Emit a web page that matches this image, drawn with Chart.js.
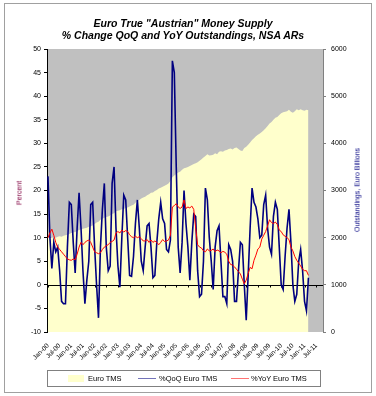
<!DOCTYPE html>
<html>
<head>
<meta charset="utf-8">
<script src="https://cdn.jsdelivr.net/npm/chart.js@4.4.1/dist/chart.umd.min.js"></script>
<style>
body { margin: 0; background: #fff; font-family: "Liberation Sans", Arial, sans-serif; }
#wrap { position: relative; width: 376px; height: 396px; overflow: hidden; }
#frame { position: absolute; left: 4px; top: 3px; width: 366px; height: 388px; border: 1px solid #a0a0a0; }
#chartCanvas { position: absolute; left: 0; top: 0; }
#title { position: absolute; left: 0; top: 17px; width: 366px; text-align: center; font-weight: bold; font-style: italic; font-size: 10.5px; line-height: 12px; }
.axisTitle { position: absolute; font-size: 7px; white-space: nowrap; transform: translate(-50%, -50%) rotate(-90deg); }
#legend { position: absolute; left: 47px; top: 370px; width: 272px; height: 15px; border: 1px solid #808080; font-size: 7.5px; }
#legend span { position: absolute; top: 3px; line-height: 9px; }
#legend i { position: absolute; display: block; }
</style>
</head>
<body>
<div id="wrap">
	<div id="frame"></div>
	<canvas id="chartCanvas" width="376" height="396"></canvas>
	<div id="title">Euro True "Austrian" Money Supply<br>% Change QoQ and YoY Outstandings, NSA ARs</div>
	<div class="axisTitle" style="left:19px;top:193px;color:#800040">Percent</div>
	<div class="axisTitle" style="left:357px;top:190px;color:#000080">Outstandings, Euro Billions</div>
	<div id="legend"></div>
</div>
<script>
// monthly, Jan-00 .. Mar-11 (axis runs on to Oct-11)
const monthNames = ['Jan','Feb','Mar','Apr','May','Jun','Jul','Aug','Sep','Oct','Nov','Dec'];
const axisMonths = 142;

// Euro TMS, billions (right axis)
const tmsBillions = [
	2000,1990,2000,2010,2000,2020,2030,2020,2040,2050,
	2060,2080,2100,2110,2120,2140,2160,2180,2190,2200,
	2210,2230,2240,2260,2290,2320,2340,2380,2400,2420,
	2440,2450,2470,2500,2520,2560,2570,2580,2600,2610,
	2630,2640,2660,2680,2700,2740,2780,2800,2830,2850,
	2870,2900,2920,2950,2960,2990,3010,3040,3060,3080,
	3100,3120,3150,3200,3280,3320,3350,3380,3400,3440,
	3470,3480,3500,3520,3540,3560,3580,3600,3630,3660,
	3700,3730,3770,3740,3750,3760,3790,3770,3820,3830,
	3820,3850,3860,3880,3890,3870,3900,3910,3880,3850,
	3840,3900,3930,3970,4020,4070,4110,4150,4180,4210,
	4240,4280,4320,4370,4420,4450,4500,4540,4560,4600,
	4640,4660,4670,4680,4710,4670,4650,4680,4720,4700,
	4720,4700,4690,4710,4700
];

// %QoQ, annualised (left axis)
const qoqPct = [
	23,10,3.5,9,7,8,3,-3.5,-4,-4,
	8,17.5,17,9,2.5,12,19.5,12,3,-4,
	1,5,17,17.5,8,0,-7,8,16,21.5,
	8,3,4,21.5,25,12,4,-0.5,10,19,
	18,10,2,1.8,6,13,18,12,5,3,
	8,12.5,13,8,1.5,2,9,14,17.5,14,
	13,7.5,7,9.5,47.5,45,25,8,2.5,9,
	20,13,8,1,9,15,14.5,3,-2.5,-2,
	5,20.5,18,10,5,-1,8,11.5,12.5,5,
	-2.5,-2.5,-4,8.5,7.5,5,-3.5,-3.5,3,9,
	8.5,0,-7.5,2,12,20.5,17.5,16.5,14,10,
	10.5,17,19,12,8,6.5,14.5,17.5,16,8,
	0,-1,6,12,16,9,0,-3.5,-2,5,
	7.5,3,-3.5,-5.5,1.5
];

// %YoY (left axis)
const yoyPct = [
	10,11,11.8,10.5,9,8,7.5,7,6.5,6,
	5.5,5.3,5.2,5.5,5.3,6.5,8,9,8.5,9,
	9.3,9.5,9,8,7,6.8,6.6,6.8,7.5,8,
	8.3,8.5,9,9.2,9.5,11,11.3,11,11.6,11.2,
	11.5,11.3,10.6,10.2,10,10.3,10,10.2,9.8,9.3,
	9.3,9.6,9,9.5,9,9.3,9,8.5,9,9.6,
	9.2,9.3,9.5,10.5,16.5,16.8,17.2,16.5,16.2,16.5,
	18,16.2,16.5,16.3,16.7,16,12,8.5,8,7.8,
	7.2,7,7.6,7.2,7.3,7.6,7,7.4,7.2,6.8,
	7.1,6.9,6.5,5,4.3,4.2,3.8,3.3,2.8,2.3,
	1.2,0.2,1,2.4,3.7,3.4,5.2,6.3,7.6,8,
	9.7,10.5,11.3,12.5,13.8,13.2,13,13.3,12.8,11.6,
	11.3,10.6,10.3,10,9.6,8,7.2,6,5.2,4.6,
	4,3.3,3,3,2
];

const monthLabels = [];
for (let i = 0; i < axisMonths; i++) {
	const yy = String(Math.floor(i / 12)).padStart(2, '0');
	monthLabels.push(monthNames[i % 12] + '-' + yy);
}

const seriesStyle = [
	{ label: 'Euro TMS', color: '#FFFFCC' },
	{ label: '%QoQ Euro TMS', color: '#000080' },
	{ label: '%YoY Euro TMS', color: '#FF0000' }
];

const plotBg = {
	id: 'plotBg',
	beforeDraw(chart) {
		const { ctx, chartArea: a } = chart;
		ctx.save();
		ctx.fillStyle = '#C0C0C0';
		ctx.fillRect(a.left, a.top, a.right - a.left, a.bottom - a.top);
		ctx.restore();
	}
};

// category axis crosses at 0, drawn over the area but under the lines
const zeroAxis = {
	id: 'zeroAxis',
	afterDatasetDraw(chart, args) {
		if (args.index !== 0) return;
		const { ctx, chartArea: a } = chart;
		const y = Math.round(chart.scales.y.getPixelForValue(0)) + 0.5;
		ctx.save();
		ctx.strokeStyle = '#000';
		ctx.lineWidth = 1;
		ctx.beginPath();
		ctx.moveTo(a.left, y);
		ctx.lineTo(a.right, y);
		for (let i = 0; i < axisMonths; i += 6) {
			const x = Math.round(chart.scales.x.getPixelForValue(i)) + 0.5;
			ctx.moveTo(x, y);
			ctx.lineTo(x, y + 2);
		}
		ctx.stroke();
		ctx.restore();
	}
};

const fontFamily = '"Liberation Sans", Arial, sans-serif';
const ctx = document.getElementById('chartCanvas').getContext('2d');
const chart = new Chart(ctx, {
	type: 'line',
	data: {
		labels: monthLabels,
		datasets: [
			{
				label: seriesStyle[0].label, data: tmsBillions, yAxisID: 'y1',
				fill: 'start', backgroundColor: seriesStyle[0].color,
				borderColor: 'rgba(0,0,0,0)', borderWidth: 0, pointRadius: 0, order: 3
			},
			{
				label: seriesStyle[1].label, data: qoqPct, yAxisID: 'y',
				borderColor: seriesStyle[1].color, borderWidth: 1.6, pointRadius: 0, fill: false, order: 2
			},
			{
				label: seriesStyle[2].label, data: yoyPct, yAxisID: 'y',
				borderColor: seriesStyle[2].color, borderWidth: 1, pointRadius: 0, fill: false, order: 1
			}
		]
	},
	options: {
		responsive: false,
		animation: false,
		events: [],
		layout: { padding: { top: 49, left: 0, right: 0, bottom: 0 } },
		plugins: { legend: { display: false }, title: { display: false }, tooltip: { enabled: false } },
		scales: {
			x: {
				type: 'category',
				offset: true,
				grid: { display: false },
				border: { display: false },
				ticks: {
					autoSkip: false, maxRotation: 45, minRotation: 45, padding: 2,
					color: '#000', font: { family: fontFamily, size: 6.5 },
					callback: (v, i) => (i % 6 === 0 ? monthLabels[i] : '')
				},
				afterFit: (s) => { s.height = 64; }
			},
			y: {
				position: 'left',
				min: -10, max: 50,
				ticks: { stepSize: 5, padding: 3, color: '#000', font: { family: fontFamily, size: 7 } },
				grid: { drawOnChartArea: false, tickLength: 3, color: '#000' },
				border: { display: true, color: '#000', width: 1 },
				afterFit: (s) => { s.width = 47; }
			},
			y1: {
				position: 'right',
				min: 0, max: 6000,
				ticks: {
					stepSize: 1000, padding: 5, color: '#000', font: { family: fontFamily, size: 7 },
					callback: (v) => String(v)
				},
				grid: { drawOnChartArea: false, tickLength: 3, color: '#808080' },
				border: { display: true, color: '#808080', width: 1 },
				afterFit: (s) => { s.width = 53; }
			}
		}
	},
	plugins: [plotBg, zeroAxis]
});

// legend box like the excel one
const legend = document.getElementById('legend');
const legendPos = [{ sw: 20, tx: 40 }, { sw: 90, tx: 111 }, { sw: 183, tx: 203 }];
seriesStyle.forEach((s, i) => {
	const sw = document.createElement('i');
	sw.style.left = legendPos[i].sw + 'px';
	if (i === 0) {
		sw.style.top = '4px'; sw.style.width = '16px'; sw.style.height = '7px';
		sw.style.background = s.color;
	} else {
		sw.style.top = '7px'; sw.style.width = '18px'; sw.style.height = '1px';
		sw.style.background = s.color; sw.style.opacity = '0.55';
	}
	legend.appendChild(sw);
	const t = document.createElement('span');
	t.style.left = legendPos[i].tx + 'px';
	t.textContent = s.label;
	legend.appendChild(t);
});
</script>
</body>
</html>
